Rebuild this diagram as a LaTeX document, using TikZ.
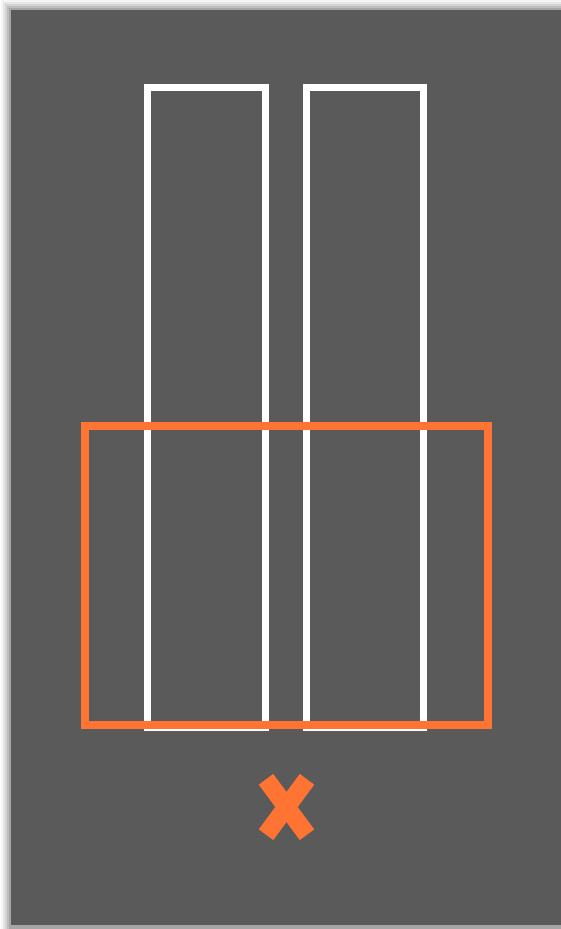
\documentclass[tikz,border=0pt]{standalone}
\usepackage{xcolor}
\definecolor{panel}{HTML}{5A5A5A}
\definecolor{accent}{HTML}{FF7433}
\tikzset{
  slot/.style={draw=white,line width=7pt},
  frame/.style={draw=accent,line width=8pt},
  crossbar/.style={draw=accent,line width=18pt,line cap=butt}
}
\begin{document}
\begin{tikzpicture}[x=1pt,y=-1pt]
\useasboundingbox (0,0) rectangle (561,929);
\fill[white] (0,0) rectangle (561,929);
% soft shadow round the panel
\foreach \i/\o in {10/0.04,8/0.06,6/0.08,4/0.1,2/0.12}
  \fill[black,opacity=\o] (11-\i,10-\i) rectangle (561,929);
\fill[panel] (11,10) rectangle (561,925);
% two uprights
\draw[slot] (147.5,87.5) rectangle (265.5,727.5);
\draw[slot] (306,87.5) rectangle (423.5,727.5);
% selection frame
\draw[frame] (85,425.5) rectangle (488,725);
% cross
\coordinate (xa) at (266,779.3);
\coordinate (xb) at (307,834.7);
\coordinate (xc) at (307,779.3);
\coordinate (xd) at (266,834.7);
\draw[crossbar] (xa) -- (xb);
\draw[crossbar] (xc) -- (xd);
\end{tikzpicture}
\end{document}
